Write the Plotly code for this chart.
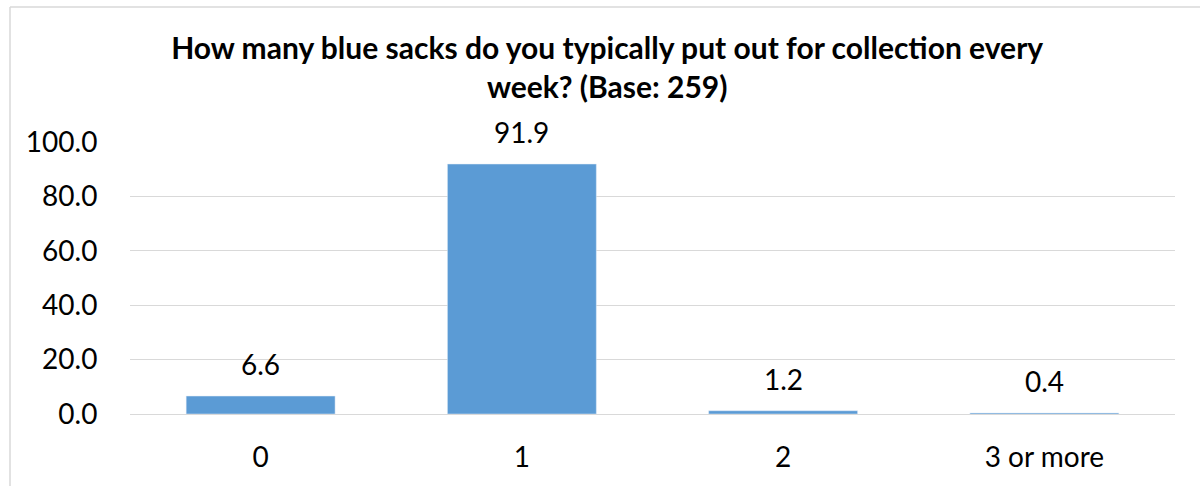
import plotly.graph_objects as go

categories = ["0", "1", "2", "3 or more"]
values = [6.6, 91.9, 1.2, 0.4]
tick_vals = [0, 20, 40, 60, 80, 100]
tick_text = ["0.0", "20.0", "40.0", "60.0", "80.0", "100.0"]
title_text = "How many blue sacks do you typically put out for collection every<br>week? (Base: 259)"

W, H = 1200, 486
L, R, T, B = 130, 25, 142, 72
pw, ph = W - L - R, H - T - B

def px_x(x):
    return (x - L) / pw

def px_y(y):
    return 1 - (y - T) / ph

FONT = "Lato"

fig = go.Figure(go.Bar(
    x=categories, y=values,
    marker_color="#5B9BD5",
    width=0.57,
    cliponaxis=False,
    hoverinfo="skip",
))

for c, v in zip(categories, values):
    fig.add_annotation(x=c, y=v, text=f"{v:.1f}", showarrow=False,
                       yanchor="middle", yshift=32,
                       font=dict(size=28, color="#000000", family=FONT))

fig.update_layout(
    width=W, height=H,
    margin=dict(l=L, r=R, t=T, b=B),
    paper_bgcolor="white", plot_bgcolor="white",
    showlegend=False,
    title=dict(text="<b>" + title_text + "</b>", x=0.506, xanchor="center",
               y=1 - 59 / H, yanchor="middle",
               font=dict(size=30, color="#000000", family=FONT)),
    xaxis=dict(showgrid=False, showline=False, ticks="outside", ticklen=18,
               tickcolor="rgba(0,0,0,0)",
               tickfont=dict(size=28, color="#000000", family=FONT)),
    yaxis=dict(range=[0, 100], tickvals=tick_vals, ticktext=tick_text,
               showgrid=True, gridcolor="#D9D9D9", gridwidth=1.3,
               zeroline=True, zerolinecolor="#D9D9D9", zerolinewidth=1.3,
               ticks="outside", ticklen=26, tickcolor="rgba(0,0,0,0)",
               tickfont=dict(size=28, color="#000000", family=FONT)),
    shapes=[
        dict(type="line", xref="paper", yref="paper",
             x0=px_x(10), x1=px_x(1205), y0=px_y(7), y1=px_y(7),
             line=dict(color="#D9D9D9", width=1.5)),
        dict(type="line", xref="paper", yref="paper",
             x0=px_x(10), x1=px_x(10), y0=px_y(7), y1=px_y(490),
             line=dict(color="#D9D9D9", width=1.5)),
    ],
)

fig.write_html("out.html", config={"displayModeBar": False},
               post_script="document.body.style.margin='0';")
